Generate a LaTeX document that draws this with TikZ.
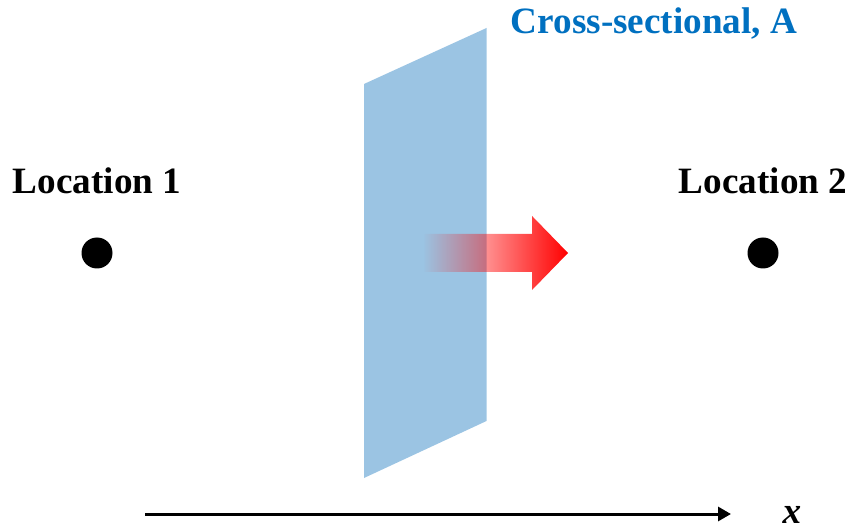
\documentclass[tikz,border=0pt]{standalone}
\usepackage{fontspec}
\setmainfont{Liberation Serif}
\usetikzlibrary{fadings,arrows.meta}
\definecolor{planeblue}{RGB}{155,196,227}
\definecolor{labelblue}{RGB}{0,112,192}
\tikzfading[name=flowfade, left color=transparent!100, right color=transparent!0]
\begin{document}
\begin{tikzpicture}[x=1bp,y=-1bp,
  lbl/.style={font=\fontsize{37.3}{40}\selectfont\bfseries, inner sep=0pt, anchor=base},
  dot/.style={circle, fill=black, minimum size=31bp, inner sep=0pt}]
  \useasboundingbox (0,0) rectangle (849,531);
  % cross-sectional plane
  \fill[planeblue] (364,84) -- (486.5,28) -- (486.5,421) -- (364,478) -- cycle;
  % flow arrow, fading in from the left
  \fill[red, path fading=flowfade]
    (423,234) -- (532,234) -- (532,216) -- (568,253) -- (532,290) -- (532,272) -- (423,272) -- cycle;
  % labels
  \node[lbl, text=labelblue] (area) at (654,34) {Cross-sectional, A};
  \node[lbl] (loc1) at (97,194) {Location 1};
  \node[lbl] (loc2) at (763,194) {Location 2};
  % locations
  \node[dot] (p1) at (97,253) {};
  \node[dot] (p2) at (763,253) {};
  % x axis
  \coordinate (ax0) at (145,514);
  \coordinate (ax1) at (731,514);
  \draw[line width=3bp, -{Triangle[length=13bp,width=14bp]}] (ax0) -- (ax1);
  \node[lbl, font=\fontsize{37.3}{40}\selectfont\bfseries\itshape] (xlbl) at (792,523) {x};
\end{tikzpicture}
\end{document}
